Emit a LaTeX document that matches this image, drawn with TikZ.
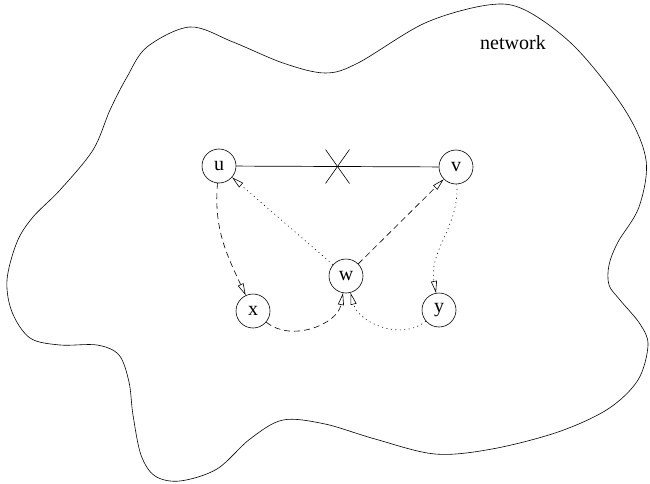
\documentclass[tikz,border=0pt]{standalone}
\usepackage{fontspec}
\setmainfont{Liberation Serif}
\usetikzlibrary{arrows.meta,calc}
\begin{document}
\begin{tikzpicture}[x=1pt,y=-1pt,
  vtx/.style={draw,circle,minimum size=34pt,inner sep=0pt,line width=0.6pt,font=\fontsize{20}{22}\selectfont},
  conn/.style={line width=0.6pt,-{Triangle[open,length=12pt,width=6pt]}},
  dsh/.style={conn,dash pattern=on 6pt off 4pt},
  dtt/.style={conn,dash pattern=on 1pt off 3.5pt}]
\useasboundingbox (0,0) rectangle (650,484);
\draw[line width=0.6pt] plot[smooth cycle,tension=0.55] coordinates {
 (190,27) (233,42) (283,63) (325,73) (358,63) (425,23) (488,5) (525,10)
 (575,47) (625,110) (646,160) (639,207) (618,242) (609,265) (609,285)
 (620,300) (640,324) (648,345) (638,380) (608,409) (558,432) (492,449)
 (435,454) (375,439) (325,424) (283,420) (250,439) (217,469) (180,481)
 (155,476) (141,455) (133,415) (129,382) (119,355) (97,345) (60,345)
 (30,338) (12,312) (7,280) (17,242) (33,217) (60,190) (93,150) (110,110)
 (127,77) (147,47)};
\node at (513,43) {\fontsize{20}{22}\selectfont network};
\node[vtx] (u) at (219,166) {u};
\node[vtx] (v) at (456,167) {v};
\node[vtx] (w) at (346,276) {w};
\node[vtx] (x) at (253,311) {x};
\node[vtx] (y) at (439,310) {y};
\draw[line width=0.7pt] (u) -- (v) coordinate[midway] (m);
\draw[line width=0.6pt] ($(m)+(-12,-17)$) -- ($(m)+(12,17)$);
\draw[line width=0.6pt] ($(m)+(-12,17)$) -- ($(m)+(12,-17)$);
\draw[dsh] (u) to[out=-95,in=115] (x);
\draw[dsh] (x) to[out=-40,in=-100] (w);
\draw[dtt] (w) -- (u);
\draw[dsh] (w) -- (v);
\draw[dtt] (v) to[out=-87,in=100] (y);
\draw[dtt] (y) to[out=-140,in=-75] (w);
\end{tikzpicture}
\end{document}
